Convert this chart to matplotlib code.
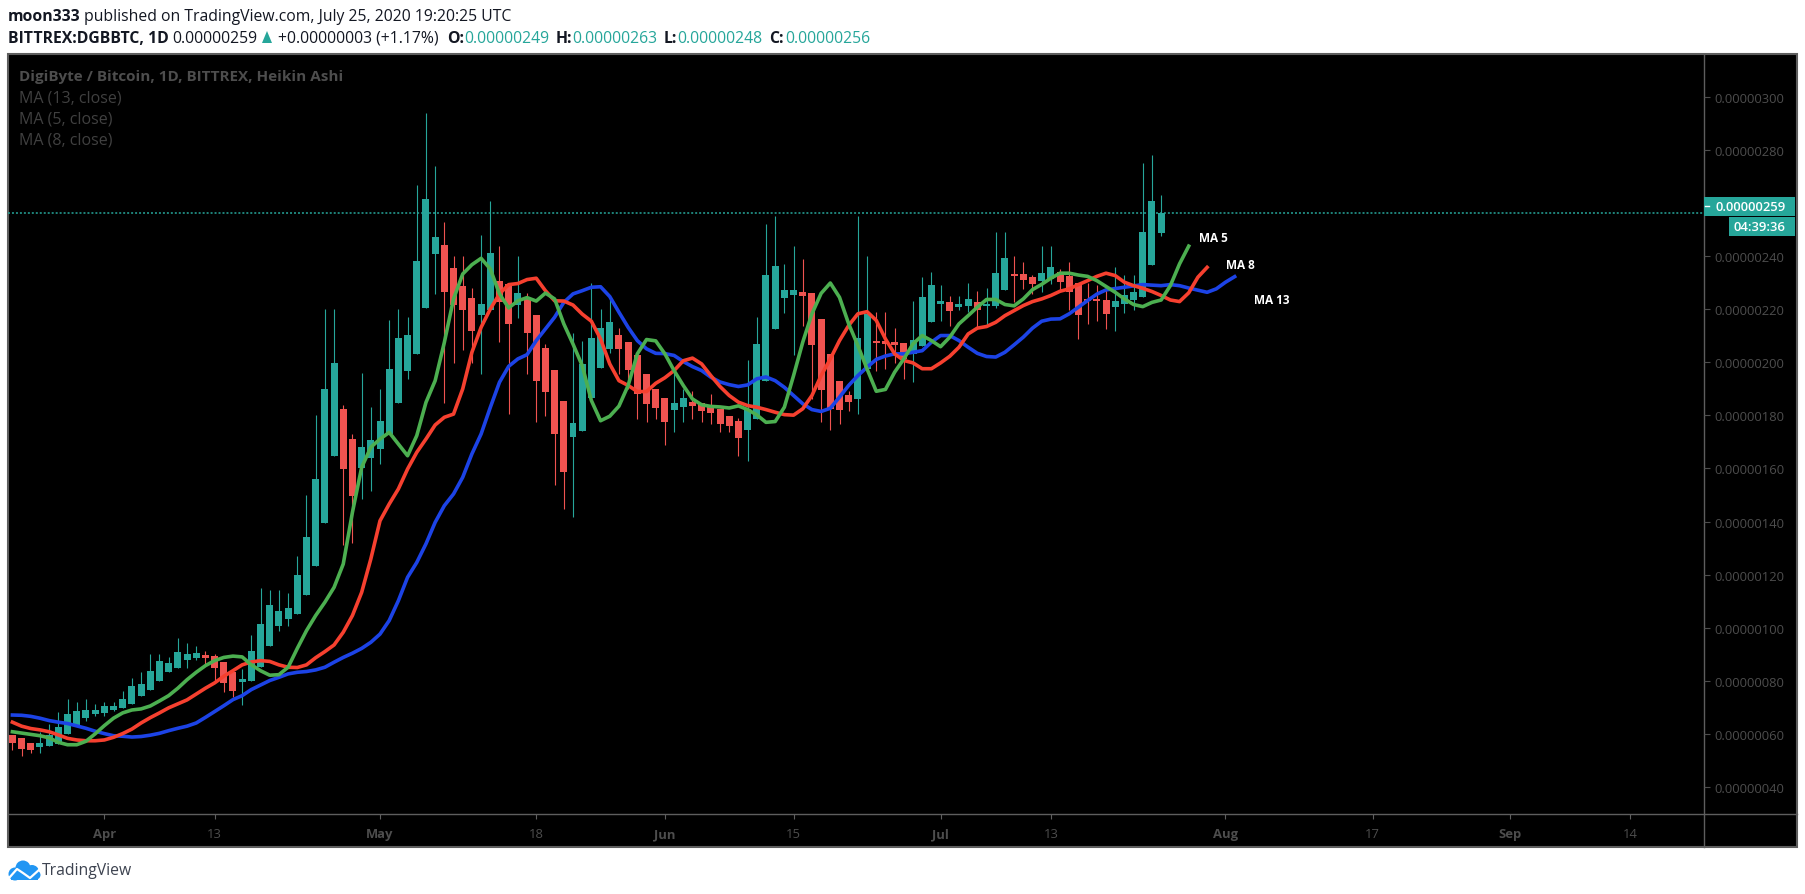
import numpy as np
import matplotlib
import matplotlib.pyplot as plt
from matplotlib.patches import Circle, Rectangle, Polygon
matplotlib.use('Agg')

# prices are kept in units of 0.00000001 BTC
# first candle is 10 days before Apr 1
first_day = -10
opens = [59.6, 58.5, 56.6, 54.9, 55.6, 56.2, 60.0, 63.1, 66.0, 67.5, 67.9, 69.0, 69.8, 71.3, 74.3, 76.5, 79.9, 83.3,
         84.8, 87.8, 88.6, 89.6, 89.2, 87.1, 83.3, 79.6, 79.9, 85.2, 93.1, 100.7, 103.3, 105.2, 112.3, 123.3, 139.5,
         164.7, 182.4, 171.1, 160.2, 164.0, 167.4, 173.0, 184.7, 196.7, 203.1, 220.5, 240.8, 244.2, 235.6, 228.8,
         224.2, 217.8, 219.7, 230.7, 229.5, 221.6, 223.9, 217.8, 205.4, 197.1, 185.4, 171.9, 174.1, 186.6, 197.9,
         205.1, 210.4, 207.7, 202.8, 195.7, 190.0, 186.6, 182.1, 183.2, 185.1, 184.7, 184.0, 182.5, 179.8, 178.0,
         174.6, 178.7, 192.8, 212.6, 224.3, 225.4, 226.6, 226.2, 216.4, 203.2, 193.0, 187.7, 186.2, 197.5, 208.1,
         208.1, 207.7, 207.3, 203.2, 206.3, 215.2, 222.0, 222.8, 220.9, 221.3, 222.8, 221.3, 221.4, 227.3, 233.3,
         233.3, 232.2, 230.7, 231.4, 234.1, 232.6, 229.9, 223.9, 223.5, 223.5, 220.9, 222.0, 223.5, 224.7, 236.7,
         248.8]
closes = [56.6, 54.3, 53.9, 56.6, 59.6, 62.6, 67.5, 68.6, 69.0, 69.0, 70.5, 70.5, 73.1, 78.0, 78.8, 83.7, 87.5, 86.7,
          90.9, 90.1, 90.5, 88.6, 84.8, 79.2, 76.2, 80.7, 91.2, 101.4, 108.6, 106.3, 107.4, 119.9, 134.1, 156.0,
          190.0, 199.8, 159.8, 149.6, 168.1, 170.7, 177.9, 197.5, 209.2, 210.3, 238.2, 261.6, 247.2, 226.5, 221.6,
          219.7, 211.8, 222.0, 241.2, 222.6, 214.5, 226.1, 211.1, 193.0, 188.8, 173.0, 158.7, 177.1, 199.4, 209.2,
          213.0, 215.3, 205.1, 197.2, 188.1, 184.4, 182.8, 177.6, 184.7, 186.6, 183.6, 181.7, 181.0, 176.8, 176.1,
          171.5, 182.5, 207.0, 233.0, 236.4, 227.3, 227.3, 225.0, 206.6, 189.6, 182.5, 182.1, 185.1, 209.2, 218.3,
          207.3, 207.0, 206.6, 201.3, 208.5, 224.7, 229.2, 223.2, 219.4, 222.0, 223.9, 219.8, 221.7, 233.7, 239.4,
          232.6, 231.0, 229.6, 233.7, 235.9, 230.3, 226.6, 217.9, 223.2, 223.2, 218.3, 223.2, 225.4, 226.6, 249.2,
          260.8, 256.3]
highs = [59.6, 58.5, 56.6, 60.6, 63.7, 68.1, 73.1, 71.9, 73.1, 71.3, 72.0, 72.0, 76.2, 81.1, 83.3, 90.1, 90.1, 89.0,
         96.1, 94.2, 93.1, 91.2, 90.1, 87.1, 83.3, 84.5, 97.3, 115.0, 114.2, 114.2, 113.1, 127.0, 150.0, 180.2,
         220.1, 220.1, 183.9, 173.0, 196.0, 183.2, 190.0, 216.0, 220.1, 217.1, 266.8, 294.0, 274.0, 252.9, 240.1,
         240.1, 228.0, 248.0, 260.8, 243.8, 229.5, 240.1, 226.1, 217.8, 206.9, 197.1, 185.4, 211.1, 208.0, 229.9,
         220.2, 223.9, 213.0, 207.7, 202.8, 195.7, 190.0, 186.6, 196.3, 190.0, 189.3, 184.7, 188.1, 182.5, 179.8,
         179.1, 200.9, 217.1, 252.2, 255.2, 237.1, 243.9, 239.0, 226.2, 216.4, 203.2, 193.0, 189.3, 255.2, 240.1,
         219.0, 219.0, 213.0, 207.3, 223.2, 232.2, 234.1, 229.2, 225.0, 225.0, 229.9, 226.9, 228.1, 249.2, 249.2,
         240.1, 237.9, 232.9, 243.9, 243.9, 235.2, 237.9, 229.9, 229.9, 229.2, 227.7, 236.0, 232.9, 232.9, 275.2,
         278.2, 263.0]
lows = [54.1, 51.8, 52.8, 52.8, 55.6, 56.2, 60.0, 63.1, 64.9, 66.7, 66.7, 68.6, 69.8, 71.3, 74.3, 76.5, 79.9, 83.3,
        84.8, 84.8, 87.8, 86.0, 79.9, 75.8, 73.9, 70.9, 79.9, 85.2, 93.1, 98.8, 100.7, 105.2, 112.3, 123.3, 139.5,
        164.7, 131.0, 132.0, 148.5, 151.5, 161.7, 173.0, 184.7, 193.7, 203.1, 220.5, 225.8, 184.7, 199.8, 204.6,
        199.8, 195.6, 219.7, 207.7, 180.5, 216.7, 195.6, 177.5, 179.8, 153.8, 144.7, 141.7, 174.1, 186.6, 197.9,
        203.6, 195.7, 190.0, 178.7, 177.6, 178.7, 168.9, 173.8, 177.6, 178.7, 177.6, 176.8, 173.8, 173.8, 164.8,
        162.9, 178.7, 192.8, 212.6, 218.6, 202.8, 213.7, 186.2, 177.6, 174.6, 176.8, 181.7, 180.6, 197.5, 196.8,
        197.5, 199.8, 193.8, 192.5, 206.3, 215.2, 215.6, 213.7, 219.8, 219.0, 213.2, 214.5, 220.5, 227.3, 222.8,
        227.7, 225.8, 226.5, 229.6, 226.9, 219.6, 208.8, 214.5, 215.6, 212.6, 211.9, 218.6, 219.8, 224.7, 236.7,
        247.6]

# moving averages, one value per day from first_day on
ma5_values = [60.8, 60.3, 59.8, 59.3, 58.5, 56.8, 55.9, 55.9, 57.2, 60.0, 63.1, 65.9, 67.9, 69.0, 69.4, 70.5, 72.4,
              74.4, 77.2, 80.4, 83.2, 85.7, 87.6, 88.8, 89.3, 89.0, 86.0, 83.8, 82.1, 82.3, 85.1, 92.2, 98.9, 104.6,
              109.6, 115.2, 124.0, 143.5, 160.4, 168.0, 171.1, 173.6, 169.2, 164.8, 172.4, 184.9, 193.1, 207.5,
              223.9, 233.3, 236.8, 239.2, 235.2, 225.8, 220.5, 223.2, 224.4, 223.1, 226.1, 223.9, 214.5, 206.9,
              198.8, 185.6, 178.0, 179.7, 183.5, 191.3, 203.2, 208.6, 208.1, 203.2, 196.9, 191.3, 186.2, 184.0,
              183.4, 183.2, 182.8, 183.6, 182.2, 180.2, 177.4, 177.7, 183.1, 195.0, 207.6, 218.3, 226.0, 229.9,
              224.5, 214.5, 206.3, 197.5, 189.1, 189.8, 196.3, 201.3, 207.0, 210.1, 208.2, 205.9, 209.5, 214.5,
              217.6, 220.8, 223.7, 223.7, 221.8, 221.3, 223.9, 227.4, 229.4, 231.7, 233.6, 233.6, 232.9, 232.4,
              230.8, 228.6, 226.4, 223.9, 221.8, 221.0, 222.6, 223.5, 228.9, 237.1, 243.8]
ma8_values = [64.4, 62.9, 62.0, 61.5, 60.8, 59.6, 58.3, 57.7, 57.4, 57.4, 57.7, 58.7, 60.1, 61.8, 64.1, 66.1, 67.9,
              69.8, 71.3, 72.8, 75.0, 77.2, 79.2, 81.7, 83.8, 86.0, 87.1, 87.6, 87.3, 86.0, 85.1, 85.0, 86.0, 88.7,
              91.0, 93.5, 98.3, 104.6, 113.3, 125.9, 140.3, 146.6, 152.3, 159.8, 166.1, 171.1, 176.4, 179.3, 180.5,
              190.0, 203.8, 213.2, 220.1, 225.8, 229.3, 229.7, 231.2, 231.7, 227.0, 223.2, 223.1, 221.6, 218.2,
              215.5, 208.8, 199.4, 193.1, 191.3, 189.0, 189.0, 192.1, 194.2, 196.9, 200.6, 201.6, 199.4, 195.0,
              190.9, 187.5, 185.0, 183.7, 183.1, 182.2, 181.2, 180.3, 180.1, 182.5, 187.5, 195.0, 201.3, 208.2,
              213.9, 218.3, 219.1, 215.8, 208.8, 203.2, 200.7, 199.8, 197.6, 197.6, 199.8, 202.3, 205.7, 210.7,
              212.9, 213.5, 215.1, 217.6, 219.5, 221.4, 222.9, 223.9, 225.2, 226.8, 227.7, 229.3, 230.8, 232.4,
              233.6, 232.7, 230.2, 228.9, 227.9, 226.7, 225.2, 223.5, 222.9, 226.2, 232.1, 235.8]
ma13_values = [67.1, 67.0, 66.6, 65.9, 65.0, 64.4, 63.9, 63.0, 62.1, 61.0, 60.1, 59.3, 59.1, 58.8, 59.0, 59.5, 60.2,
               61.2, 62.1, 62.9, 64.1, 66.2, 68.4, 70.6, 72.9, 74.4, 76.7, 78.4, 80.1, 81.3, 82.6, 83.2, 83.5, 84.1,
               85.1, 87.0, 88.8, 90.4, 92.2, 94.5, 97.6, 102.7, 110.2, 119.0, 124.6, 131.6, 139.7, 146.0, 150.4,
               156.7, 165.5, 173.0, 183.0, 192.5, 198.5, 201.3, 202.9, 208.2, 212.6, 217.0, 222.6, 225.8, 227.0,
               228.3, 228.5, 224.8, 218.9, 213.2, 208.2, 205.1, 203.4, 203.3, 202.6, 200.3, 198.4, 196.9, 194.4,
               192.6, 191.6, 190.9, 191.5, 193.8, 194.5, 193.1, 190.6, 187.5, 184.4, 182.2, 181.5, 182.7, 186.9,
               191.3, 195.0, 198.2, 201.1, 202.4, 203.2, 203.2, 203.8, 204.4, 207.6, 210.1, 210.1, 208.2, 205.7,
               203.4, 202.2, 202.0, 203.8, 206.6, 209.5, 212.9, 215.5, 216.3, 216.4, 218.3, 220.8, 223.3, 225.7,
               227.3, 227.8, 228.3, 228.8, 229.3, 229.1, 228.9, 229.3, 228.9, 228.0, 227.2, 226.4, 227.7, 230.2,
               232.3]

last_close = 256.3
price_ticks = [40, 60, 80, 100, 120, 140, 160, 180, 200, 220, 240, 260, 280, 300]
price_labels = ['0.00000040', '0.00000060', '0.00000080', '0.00000100', '0.00000120', '0.00000140', '0.00000160',
                '0.00000180', '0.00000200', '0.00000220', '0.00000240', '', '0.00000280', '0.00000300']
# days since Apr 1
date_ticks = [0, 12, 30, 47, 61, 75, 91, 103, 122, 138, 153, 166]
date_labels = ['Apr', '13', 'May', '18', 'Jun', '15', 'Jul', '13', 'Aug', '17', 'Sep', '14']
month_labels = ['Apr', 'May', 'Jun', 'Jul', 'Aug', 'Sep']

GREEN = '#26a69a'
RED = '#ef5350'
FRAME = '#5e5e5e'
DIM = '#4d4d4d'
FONT = 'Open Sans'
W, H = 1805, 895


def draw_candles(ax):
    days = first_day + np.arange(len(opens))
    o, c = np.array(opens), np.array(closes)
    colors = [GREEN if up else RED for up in c >= o]
    ax.vlines(days, lows, highs, colors=colors, linewidth=0.8, zorder=2)
    bottoms = np.minimum(o, c)
    ax.bar(days, np.maximum(np.abs(c - o), 0.8), 0.76, bottom=bottoms, color=colors, linewidth=0, zorder=3)


def draw_averages(ax):
    for values, color in ((ma13_values, '#1c43e6'), (ma8_values, '#f6402f'), (ma5_values, '#4caf50')):
        days = first_day + np.arange(len(values))
        ax.plot(days, values, color=color, linewidth=2.6, solid_joinstyle='round', zorder=4)
    for day, price, text in ((119.1, 247.2, 'MA 5'), (122.1, 237.0, 'MA 8'), (125.1, 223.8, 'MA 13')):
        ax.text(day, price, text, color='white', fontsize=8.5, fontweight='bold', va='center', family=FONT, zorder=5)


def draw_header(page):
    line1 = [(8, 'moon333', 'bold', '#131722'), (84, 'published on TradingView.com, July 25, 2020 19:20:25 UTC', 'normal', '#131722')]
    line2 = [(8, 'BITTREX:DGBBTC, 1D', 'bold', '#131722'), (172, '0.00000259', 'normal', '#131722'),
             (278, '+0.00000003 (+1.17%)', 'normal', '#131722'), (447, 'O:', 'bold', '#131722'),
             (464, '0.00000249', 'normal', GREEN), (556, 'H:', 'bold', '#131722'), (572, '0.00000263', 'normal', GREEN),
             (664, 'L:', 'bold', '#131722'), (677, '0.00000248', 'normal', GREEN), (769, 'C:', 'bold', '#131722'),
             (785, '0.00000256', 'normal', GREEN)]
    for y, line in ((16.5, line1), (38.5, line2)):
        for x, text, weight, color in line:
            page.text(x, y, text, fontsize=11.3, fontweight=weight, color=color, va='center', family=FONT)
    page.add_patch(Polygon([(262, 44), (272, 44), (267, 32)], color=GREEN, linewidth=0))


def draw_frame(page):
    page.add_patch(Rectangle((8, 55), 1789, 793, facecolor='black', edgecolor=FRAME, linewidth=1.5))
    page.plot([8, 1797], [815, 815], color=FRAME, linewidth=1, zorder=3)
    page.plot([1704, 1704], [55, 848], color=FRAME, linewidth=1, zorder=3)


def draw_overlay(page):
    page.text(19, 76.5, 'DigiByte / Bitcoin, 1D, BITTREX, Heikin Ashi', fontsize=11, fontweight='bold', color=DIM,
              va='center', family=FONT)
    for y, text in ((98, 'MA (13, close)'), (119, 'MA (5, close)'), (140, 'MA (8, close)')):
        page.text(19, y, text, fontsize=11.5, color='#404040', va='center', family=FONT)
    # last price and countdown boxes
    page.add_patch(Rectangle((1704, 198), 91, 19, color=GREEN, linewidth=0, zorder=6))
    page.add_patch(Rectangle((1729, 218), 66, 19, color=GREEN, linewidth=0, zorder=6))
    page.plot([1705, 1709], [207, 207], color='white', linewidth=1, zorder=7)
    page.text(1715, 207, '0.00000259', color='white', fontsize=9.4, fontweight='semibold', va='center', family=FONT, zorder=7)
    page.text(1733, 227, '04:39:36', color='white', fontsize=9.4, fontweight='semibold', va='center', family=FONT, zorder=7)


def draw_logo(page):
    for x, y, r in ((15, 875, 6.5), (23, 869, 7.5), (32, 873, 7), (36, 876, 4.5)):
        page.add_patch(Circle((x, y), r, color='#2196f3', linewidth=0))
    page.add_patch(Rectangle((11, 875), 27, 6, color='#2196f3', linewidth=0))
    page.plot([9, 17, 23, 30, 40], [879, 870, 874, 879, 870], color='white', linewidth=1.6)
    page.text(42, 871, 'TradingView', fontsize=11.3, color='#3d4350', va='center', family=FONT)


def draw_chart():
    fig = plt.figure(figsize=(W / 100, H / 100), dpi=100, facecolor='white')
    page = fig.add_axes([0, 0, 1, 1], zorder=1)
    page.set_xlim(0, W)
    page.set_ylim(H, 0)
    page.axis('off')
    draw_frame(page)
    draw_header(page)
    draw_logo(page)

    ax = fig.add_axes([8 / W, (H - 815) / H, (1704 - 8) / W, (815 - 55) / H], zorder=2)
    ax.set_facecolor('none')
    ax.set_xlim(-10.48, 174.07)
    ax.set_ylim(29.8, 316.2)
    for spine in ax.spines.values():
        spine.set_visible(False)
    ax.yaxis.tick_right()
    ax.set_yticks(price_ticks, price_labels, family=FONT, fontsize=9.4, color=DIM)
    ax.set_xticks(date_ticks, date_labels, family=FONT, fontsize=9.4, color=DIM)
    ax.tick_params(axis='y', length=4.5, width=0.8, color=DIM, pad=3)
    ax.tick_params(axis='x', length=3.5, width=0.8, color=FRAME, pad=6)
    for label in ax.get_xticklabels():
        if label.get_text() in month_labels:
            label.set_fontweight('bold')
    draw_candles(ax)
    draw_averages(ax)
    ax.axhline(last_close, color=GREEN, linewidth=1.1, linestyle=(0, (1.3, 1.3)), zorder=1)

    top = fig.add_axes([0, 0, 1, 1], zorder=3)
    top.set_xlim(0, W)
    top.set_ylim(H, 0)
    top.axis('off')
    draw_overlay(top)
    fig.savefig('out.png', dpi=100, facecolor='white')


if __name__ == '__main__':
    draw_chart()
